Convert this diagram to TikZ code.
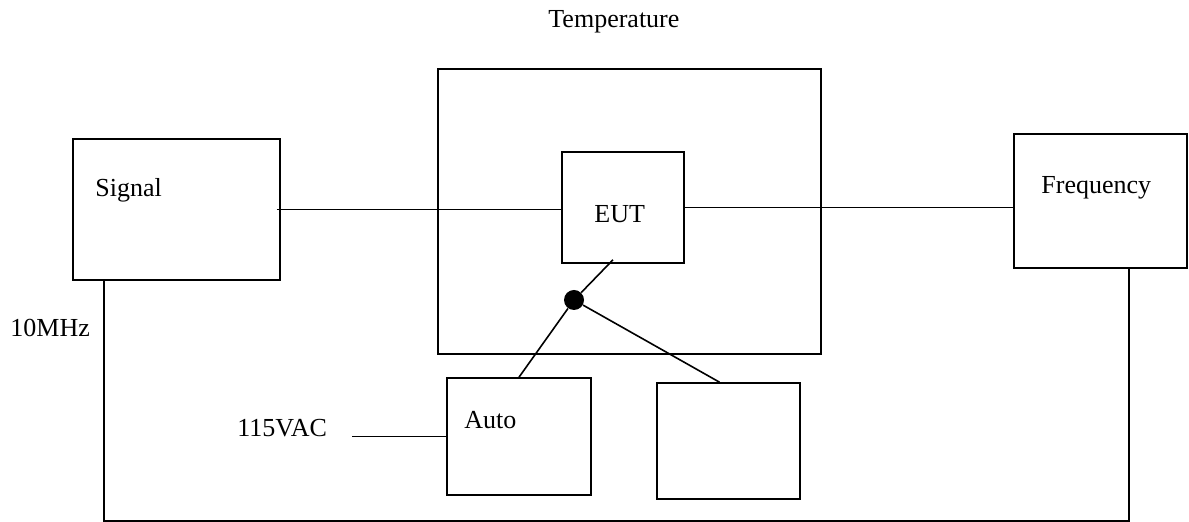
\documentclass[tikz,border=0pt]{standalone}
\usepackage{fontspec}
\setmainfont{Liberation Serif}
\usepackage{tikz}
\usetikzlibrary{positioning,calc}

\begin{document}
\begin{tikzpicture}[
  x=0.5pt, y=-0.5pt,
  font=\fontsize{13pt}{15pt}\selectfont,
  box/.style={
    rectangle, draw=black, line width=0.8pt, inner sep=0pt
  },
  txt/.style={inner sep=0pt, anchor=base west},
  wire/.style={line width=0.8pt, black},
  joint/.style={circle, fill=black, inner sep=0pt, minimum size=10pt}
]
\useasboundingbox (0,0) rectangle (1189,522);

% --- Boxes ---
\node[box, minimum width=103.5pt, minimum height=70.5pt] (sig) at (176.5,209.5) {};
\node[box, minimum width=191.5pt, minimum height=142.5pt] (chamber) at (629.5,211.5) {};
\node[box, minimum width=61pt, minimum height=55.5pt] (eut) at (623,207.5) {};
\node[box, minimum width=86.5pt, minimum height=67pt] (freq) at (1100.5,201) {};
\node[box, minimum width=72pt, minimum height=58.5pt] (auto) at (519,436.5) {};
\node[box, minimum width=71.5pt, minimum height=58pt] (spare) at (728.5,441) {};

% --- Labels ---
\node[txt] (temp) at (548,28) {Temperature};
\node[txt] (siglbl) at (95,197) {Signal};
\node[txt] (eutlbl) at (594,223) {EUT};
\node[txt] (freqlbl) at (1041,194) {Frequency};
\node[txt] (ref) at (10,337) {10MHz};
\node[txt] (vac) at (237,437) {115VAC};
\node[txt] (autolbl) at (464,429) {Auto};

% --- Junction ---
\node[joint] (dot) at (574,300) {};
\coordinate (vacend) at (352,436.5);

% --- Wires ---
\draw[wire] ([xshift=-2pt]sig.east) -- (sig.east -| eut.west);
\draw[wire] (eut.east) -- (eut.east -| freq.west);
\draw[wire] ([xshift=-5pt,yshift=2pt]eut.south) -- (dot) -- (auto.north);
\draw[wire] (dot) -- ([xshift=-4.5pt]spare.north);
\draw[wire] (vacend) -- (auto.west);
\draw[wire] ([xshift=16pt]sig.south west) -- ++(0,240) -| ([xshift=58pt]freq.south west);

\end{tikzpicture}
\end{document}
